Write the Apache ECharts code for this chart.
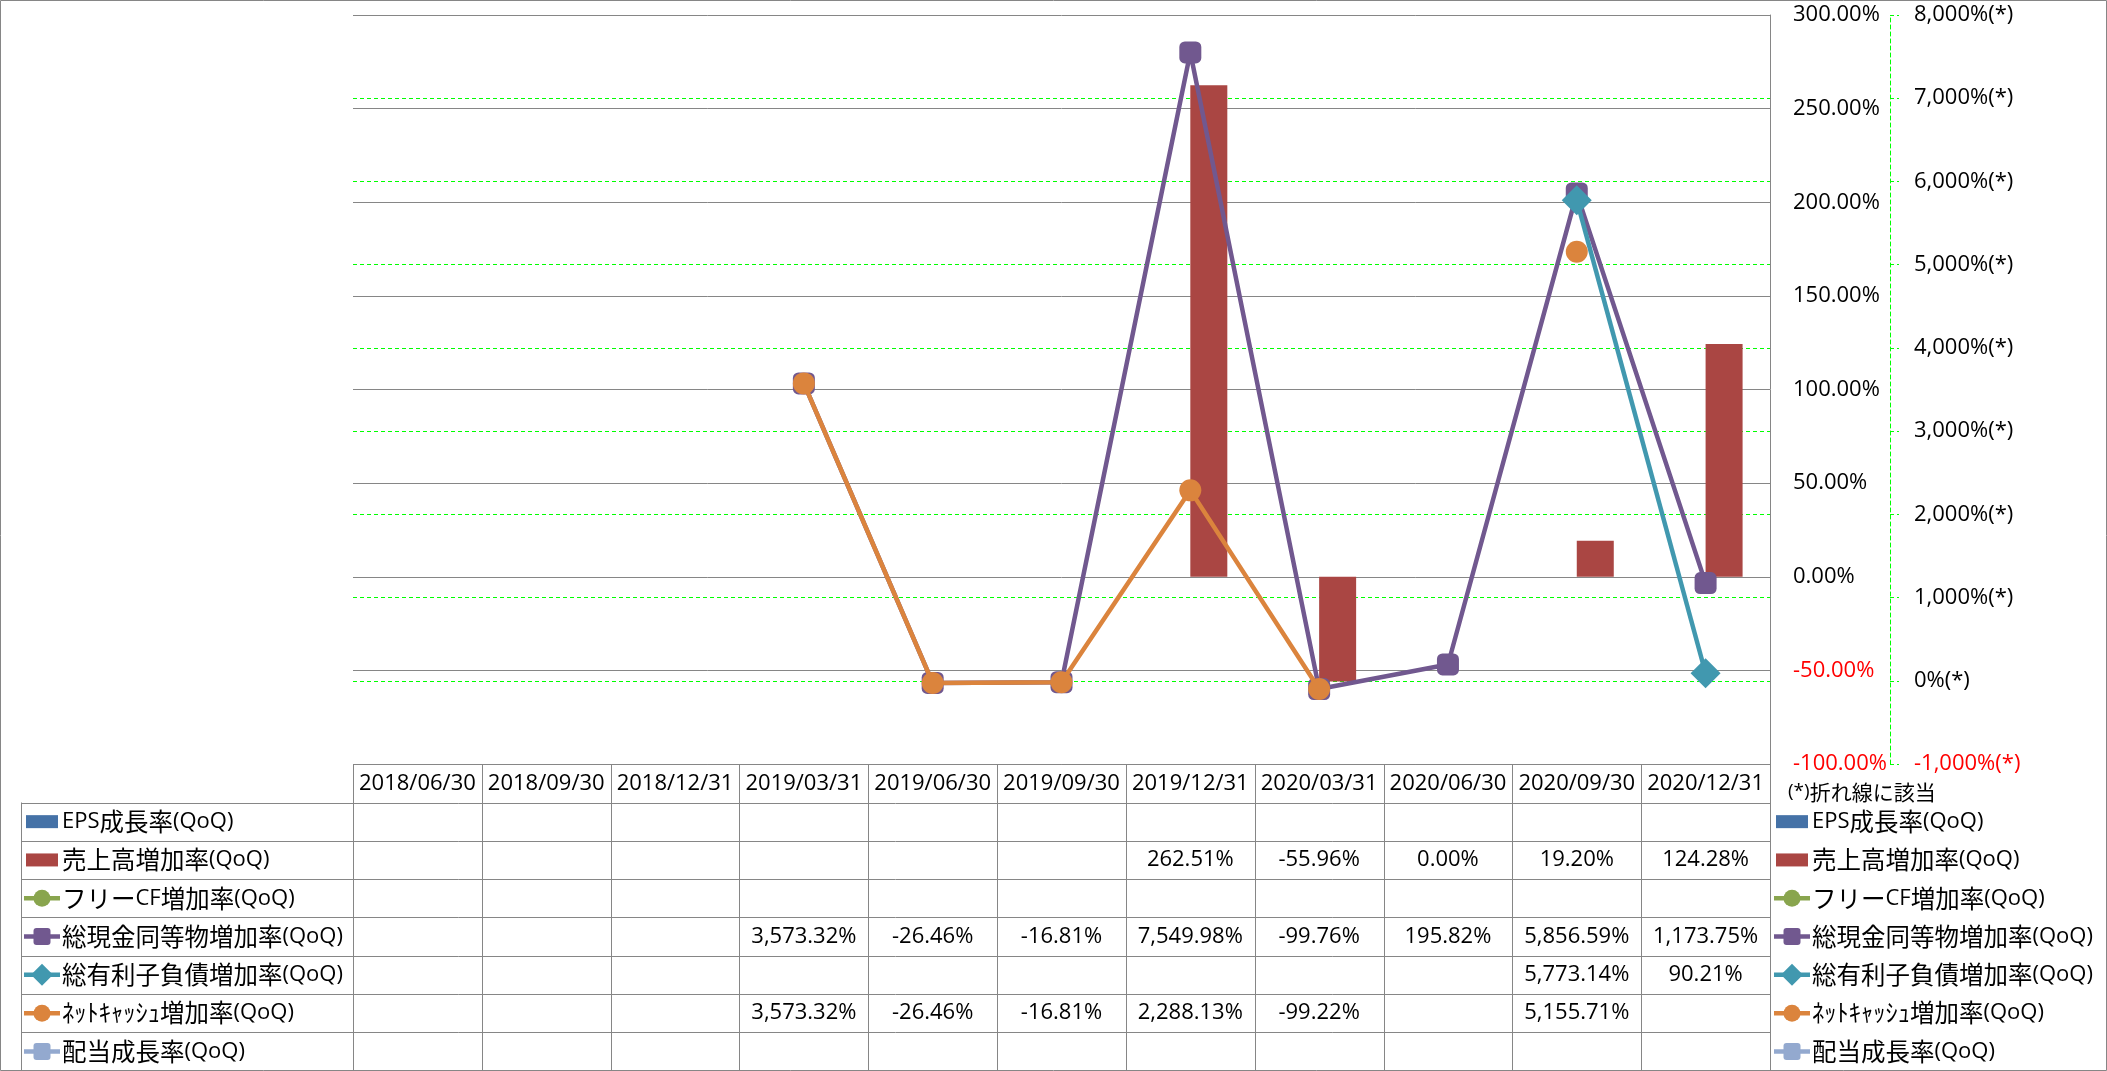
<!DOCTYPE html>
<html>
<head>
<meta charset="utf-8">
<script src="https://cdn.jsdelivr.net/npm/echarts@6/dist/echarts.min.js"></script>
<style>
html,body{margin:0;padding:0;background:#fff;}
#main{width:2107px;height:1071px;}
</style>
</head>
<body>
<div id="main"></div>
<script>
// ---------- DATA ----------
const categories = ['2018/06/30','2018/09/30','2018/12/31','2019/03/31','2019/06/30','2019/09/30','2019/12/31','2020/03/31','2020/06/30','2020/09/30','2020/12/31'];
const seriesNames = ['EPS成長率(QoQ)','売上高増加率(QoQ)','フリーCF増加率(QoQ)','総現金同等物増加率(QoQ)','総有利子負債増加率(QoQ)','ﾈｯﾄｷｬｯｼｭ増加率(QoQ)','配当成長率(QoQ)'];
const epsGrowth      = [null,null,null,null,null,null,null,null,null,null,null];
const salesGrowth    = [null,null,null,null,null,null,262.51,-55.96,0.00,19.20,124.28];
const fcfGrowth      = [null,null,null,null,null,null,null,null,null,null,null];
const cashGrowth     = [null,null,null,3573.32,-26.46,-16.81,7549.98,-99.76,195.82,5856.59,1173.75];
const debtGrowth     = [null,null,null,null,null,null,null,null,null,5773.14,90.21];
const netCashGrowth  = [null,null,null,3573.32,-26.46,-16.81,2288.13,-99.22,null,5155.71,null];
const dividendGrowth = [null,null,null,null,null,null,null,null,null,null,null];
const leftAxisTicks  = [-100, 300, 50];     // min, max, interval (bars, %)
const rightAxisTicks = [-1000, 8000, 1000]; // min, max, interval (lines, %(*))
const noteText = '(*)折れ線に該当';

// ---------- STYLE ----------
const FONT = "'Open Sans','Noto Sans CJK JP',sans-serif";
const LATIN = "'Open Sans',sans-serif";
const CJK = "'Noto Sans CJK JP',sans-serif";
const FS = 22;
const GRAY = '#868686';
const GREEN = '#00FF00';
const styles = [
  {type:'bar',  color:'#4572A7'},
  {type:'bar',  color:'#AA4643'},
  {type:'line', color:'#89A54E', symbol:'circle'},
  {type:'line', color:'#71588F', symbol:'rect'},
  {type:'line', color:'#4198AF', symbol:'diamond'},
  {type:'line', color:'#DB843D', symbol:'circle'},
  {type:'line', color:'#93A9CF', symbol:'rect'}
];
const allData = [epsGrowth, salesGrowth, fcfGrowth, cashGrowth, debtGrowth, netCashGrowth, dividendGrowth];

function fmtNum(v, dec){
  const s = Math.abs(v).toFixed(dec);
  const parts = s.split('.');
  const ip = parts[0].replace(/\B(?=(\d{3})+(?!\d))/g, ',');
  return (v < 0 ? '-' : '') + ip + (parts[1] ? '.' + parts[1] : '');
}

const GL = 353, GR = 1770, GT = 15, GB = 764;
const chart = echarts.init(document.getElementById('main'), null, {renderer:'canvas'});

const symbolSizes = {circle:22, rect:22, diamond:30};
const series = allData.map((d, i) => {
  const st = styles[i];
  if (st.type === 'bar') {
    return {name: seriesNames[i], type:'bar', yAxisIndex:0, data:d, barWidth:37, barGap:'0%',
      itemStyle:{color:st.color}, z:2};
  }
  return {name: seriesNames[i], type:'line', yAxisIndex:1, data:d,
    symbol: st.symbol === 'rect' ? 'roundRect' : st.symbol,
    symbolSize: symbolSizes[st.symbol], showAllSymbol:true, connectNulls:false,
    lineStyle:{color:st.color, width:4.5}, itemStyle:{color:st.color}, z:3 + i};
});

chart.setOption({
  animation:false,
  backgroundColor:'#fff',
  textStyle:{fontFamily:FONT},
  grid:{left:GL, right:2107-GR, top:GT, bottom:1071-GB, containLabel:false},
  xAxis:{type:'category', data:categories, axisLine:{show:false}, axisTick:{show:false},
    axisLabel:{show:false}, splitLine:{show:false}},
  yAxis:[
    {type:'value', position:'right', min:leftAxisTicks[0], max:leftAxisTicks[1], interval:leftAxisTicks[2],
      axisLine:{show:true, lineStyle:{color:GRAY, width:1}}, axisTick:{show:false},
      axisLabel:{margin:23, fontSize:FS, fontFamily:FONT, align:'left',
        formatter:v => v.toFixed(2) + '%',
        color:v => (v < 0 ? '#FF0000' : '#000000')},
      splitLine:{show:true, lineStyle:{color:GRAY, width:1}}, z:1},
    {type:'value', position:'right', offset:120, min:rightAxisTicks[0], max:rightAxisTicks[1], interval:rightAxisTicks[2],
      axisLine:{show:true, lineStyle:{color:GREEN, width:1, type:[4,3]}},
      axisTick:{show:true, length:9, lineStyle:{color:GREEN, type:[4,3]}},
      axisLabel:{margin:24, fontSize:FS, fontFamily:FONT, align:'left',
        formatter:v => fmtNum(v,0) + '%(*)',
        color:v => (v < 0 ? '#FF0000' : '#000000')},
      splitLine:{show:true, showMaxLine:false, showMinLine:false, lineStyle:{color:GREEN, width:1, type:[4,3]}}, z:0}
  ],
  series: series
});

// ---------- TABLE & LEGENDS (graphic) ----------
const g = [];
const colW = (GR - GL) / categories.length;
const headTop = GB, headBot = 802.5, rowH = 38.3;
const tableLeft = 21;
const nRows = seriesNames.length;
const tableBot = headBot + nRows * rowH;

function hline(x1, x2, y){ g.push({type:'line', silent:true, shape:{x1:x1, y1:Math.round(y)+0.5, x2:x2, y2:Math.round(y)+0.5}, style:{stroke:GRAY, lineWidth:1}, z:10}); }
function vline(x, y1, y2){ g.push({type:'line', silent:true, shape:{x1:Math.round(x)+0.5, y1:y1, x2:Math.round(x)+0.5, y2:y2}, style:{stroke:GRAY, lineWidth:1}, z:10}); }
function text(t, x, y, align, size, color){
  g.push({type:'text', silent:true, x:x, y:y, style:{text:t, font: (size||FS) + 'px ' + FONT, fill:color||'#000', align:align||'center', verticalAlign:'middle'}, z:11});
}
// mixed text: CJK runs a bit larger than latin runs (as in the reference)
function mixedText(t, x, y, latinSize, cjkSize){
  const re = /[\u3000-\u30ff\u4e00-\u9fff\uff61-\uff9f\uff01-\uff60]/;
  let runs = [], cur = '', curC = null;
  for (const ch of t) {
    const c = re.test(ch);
    if (curC === null || c === curC) { cur += ch; curC = c; }
    else { runs.push([cur, curC]); cur = ch; curC = c; }
  }
  if (cur) runs.push([cur, curC]);
  const str = runs.map(r => '{' + (r[1] ? 'c' : 'l') + '|' + r[0] + '}').join('');
  g.push({type:'text', silent:true, x:x, y:y, style:{text:str, align:'left', verticalAlign:'middle', fill:'#000',
    rich:{c:{fontFamily:CJK, fontSize:cjkSize, fill:'#000', verticalAlign:'middle'}, l:{fontFamily:LATIN, fontSize:latinSize, fill:'#000', verticalAlign:'middle'}}}, z:11});
}
function key(x, y, i){
  const st = styles[i];
  if (st.type === 'bar') {
    g.push({type:'rect', silent:true, shape:{x:x, y:y-6.5, width:32, height:13}, style:{fill:st.color}, z:11});
    return;
  }
  g.push({type:'line', silent:true, shape:{x1:x-2, y1:y, x2:x+34, y2:y}, style:{stroke:st.color, lineWidth:4.5}, z:11});
  const cx = x + 16;
  if (st.symbol === 'circle') g.push({type:'circle', silent:true, shape:{cx:cx, cy:y, r:8.5}, style:{fill:st.color}, z:12});
  else if (st.symbol === 'rect') g.push({type:'rect', silent:true, shape:{x:cx-8.5, y:y-8.5, width:17, height:17, r:3}, style:{fill:st.color}, z:12});
  else g.push({type:'polygon', silent:true, shape:{points:[[cx, y-11],[cx+11, y],[cx, y+11],[cx-11, y]]}, style:{fill:st.color}, z:12});
}

// outer border
g.push({type:'rect', silent:true, shape:{x:0.5, y:0.5, width:2106, height:1070}, style:{fill:null, stroke:GRAY, lineWidth:1}, z:9});

// header
hline(GL, GR, headTop);
hline(tableLeft, GR, headBot);
for (let r = 1; r <= nRows; r++) hline(tableLeft, GR, headBot + r * rowH);
for (let c = 0; c <= categories.length; c++) vline(GL + c * colW, headTop, tableBot);
vline(tableLeft, headBot, tableBot);

categories.forEach((cat, c) => {
  const cx = chart.convertToPixel({xAxisIndex:0}, c);
  text(cat, cx, (headTop + headBot) / 2, 'center');
});

seriesNames.forEach((name, r) => {
  const cy = headBot + (r + 0.5) * rowH;
  key(26, cy, r);
  mixedText(name, 62, cy, 22, 24.5);
  allData[r].forEach((v, c) => {
    if (v === null || v === undefined) return;
    const cx = chart.convertToPixel({xAxisIndex:0}, c);
    text(fmtNum(v, 2) + '%', cx, cy, 'center');
  });
  // right legend
  key(1776, cy, r);
  mixedText(name, 1812, cy, 22, 24.5);
});
mixedText(noteText, 1788, 792, 19, 21);

chart.setOption({graphic:{elements:g}});
</script>
</body>
</html>
